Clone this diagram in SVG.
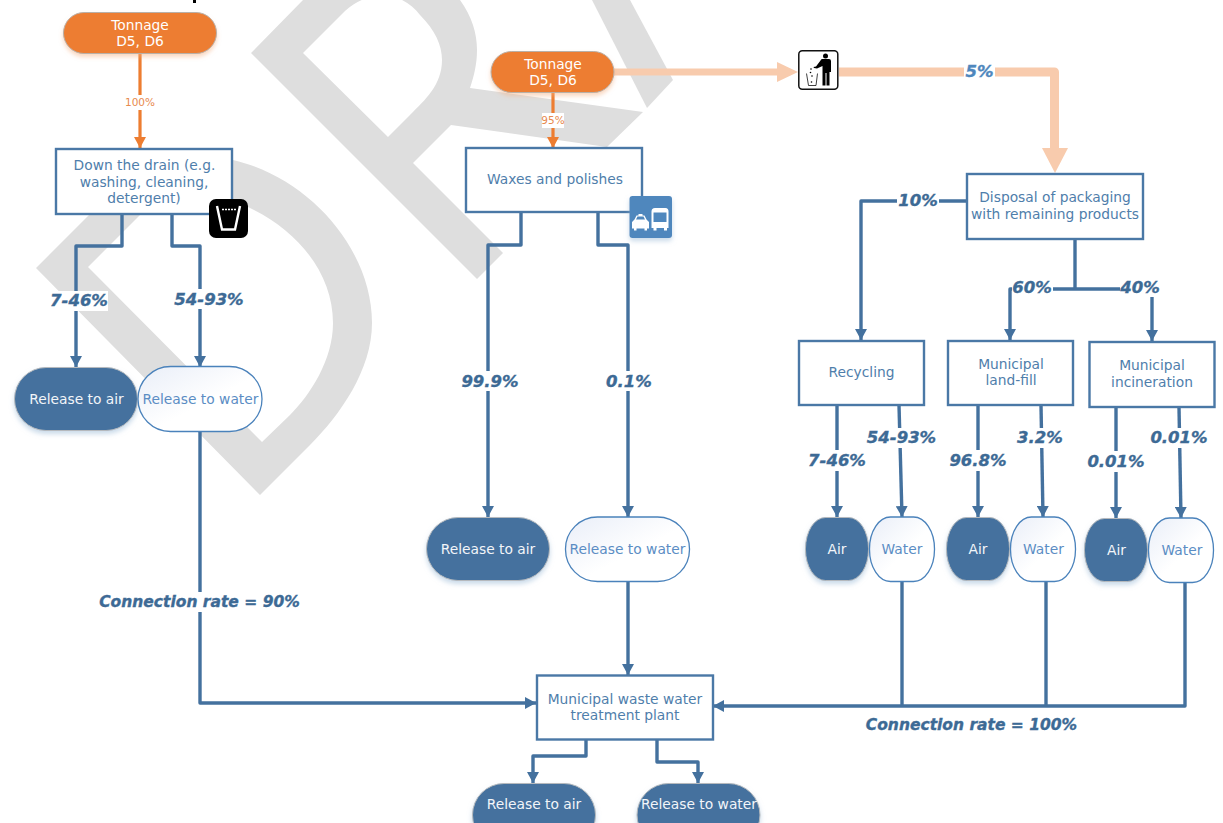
<svg xmlns="http://www.w3.org/2000/svg" width="1223" height="823" viewBox="0 0 1223 823">
<style>
text{font-family:"DejaVu Sans",Verdana,sans-serif;text-anchor:middle}
.t{font-size:13.8px}
.box{fill:#fff;stroke:#4A78A6;stroke-width:2.4}
.boxt{fill:#4F7EAB}
.dark{fill:#44719E;stroke:#b5b9bd;stroke-width:1;filter:url(#sb)}
.darkt{fill:#F2F5F9}
.water{fill:url(#wg);stroke:#4A82BB;stroke-width:1.3}
.watert{fill:#5B8DC4}
.orange{fill:#ED7D31;stroke:#b9b0a8;stroke-width:1;filter:url(#so)}
.oranget{fill:#fff}
.c{fill:none;stroke:#44719E;stroke-width:3.4;stroke-linejoin:round;marker-end:url(#ab)}
.n{marker-end:none}
.co{fill:none;stroke:#ED7D31;stroke-width:3.2;marker-end:url(#ao)}
.cp{fill:none;stroke:#F8CBAD;stroke-width:9;stroke-linejoin:round}
.pct{font-size:16.5px;font-weight:bold;font-style:italic;fill:#3D6A95;stroke:#3D6A95;stroke-width:.35}
.rate{font-size:15.5px}
.small{font-size:10.5px;fill:#E88A4E}
.bg{fill:#fff}
.wm{fill:#dedede;fill-rule:evenodd}
</style>
<defs>
<linearGradient id="wg" x1="0" y1="0" x2="1" y2="1"><stop offset="0" stop-color="#E9EEF8"/><stop offset=".55" stop-color="#fff"/></linearGradient>
<filter id="sb" x="-20%" y="-20%" width="140%" height="150%"><feDropShadow dx="0" dy="3" stdDeviation="2.5" flood-color="#9DBBD8" flood-opacity=".55"/></filter>
<filter id="so" x="-20%" y="-20%" width="140%" height="150%"><feDropShadow dx="0" dy="3" stdDeviation="2" flood-color="#F4B183" flood-opacity=".5"/></filter>
<marker id="ab" markerUnits="userSpaceOnUse" markerWidth="12" markerHeight="12" refX="11" refY="6" orient="auto"><path d="M0,0L11,6L0,12Z" fill="#44719E"/></marker>
<marker id="ao" markerUnits="userSpaceOnUse" markerWidth="12" markerHeight="12" refX="11" refY="6" orient="auto"><path d="M0,0L11,6L0,12Z" fill="#ED7D31"/></marker>
</defs>
<g id="watermark">
<path class="wm" d="M36,268L120,184C150,155 190,150 233,160C310,178 372,250 372,323C372,370 340,415 310,445L260,495ZM88,267L262,442L290,415C310,395 333,360 333,323C333,275 300,232 250,208C215,190 170,190 140,215Z"/>
<path class="wm" d="M251,53L303,0L460,0C472,17 477,33 477,50C477,64 474,76 470,88L643,112L607,147L451,125L413,163L503,253L477,279ZM303,53L388,137L410,115C425,100 442,85 442,60C442,45 435,30 420,15C405,-5 375,-15 345,11Z"/>
<path class="wm" d="M592,0L630,0L673,80L647,108Z"/>
</g>
<rect x="193" y="0" width="3" height="3" fill="#000"/>
<g id="connectors">
<path class="co" d="M140,54V148"/>
<path class="co" d="M553,93V148"/>
<path class="cp" style="stroke-width:7" d="M613,72H780"/>
<circle cx="613" cy="72" r="3.500" fill="#F8CBAD"/>
<path d="M777,62L798,72L777,82Z" fill="#F8CBAD"/>
<path class="cp" d="M839,72H1054.500V150"/>
<path d="M1042,148H1068L1055,173Z" fill="#F8CBAD"/>
<path class="c" d="M122,214V246H76V367"/>
<path class="c" d="M172,214V246H200V367"/>
<path class="c" d="M200,431V703H536"/>
<path class="c" d="M521,212V245H488V517"/>
<path class="c" d="M598,212V245H628V517"/>
<path class="c" d="M628,581V675"/>
<path class="c" d="M586,740V756H533V783"/>
<path class="c" d="M657,740V762H698V783"/>
<path class="c" d="M966,201H861V340"/>
<path class="c n" d="M1075,239V289"/>
<path class="c" d="M1152,289H1075H1010V340"/>
<path class="c" d="M1152,289V341"/>
<path class="c" d="M837,405V517"/>
<path class="c" d="M899,405L902,517"/>
<path class="c" d="M978,405V517"/>
<path class="c" d="M1041,405L1043,517"/>
<path class="c" d="M1116,407V518"/>
<path class="c" d="M1179,407L1181,518"/>
<path class="c n" d="M902,581V706"/>
<path class="c n" d="M1046,582V706"/>
<path class="c" d="M1185,583V706H713"/>
</g>
<g id="labels">
<rect class="bg" x="125" y="95" width="30" height="15"/><text class="small" x="140" y="106">100%</text>
<rect class="bg" x="542" y="113" width="22" height="15"/><text class="small" x="553" y="124">95%</text>
<rect class="bg" x="964" y="62" width="31" height="20"/><text class="pct" style="fill:#4F87BD;stroke:#4F87BD" x="979.500" y="77">5%</text>
<rect class="bg" x="50" y="291" width="58" height="20"/><text class="pct" x="79" y="306">7-46%</text>
<rect class="bg" x="174" y="289" width="70" height="20"/><text class="pct" x="209" y="305">54-93%</text>
<rect class="bg" x="461" y="371" width="58" height="20"/><text class="pct" x="490" y="387">99.9%</text>
<rect class="bg" x="606" y="371" width="46" height="20"/><text class="pct" x="629" y="387">0.1%</text>
<rect class="bg" x="99" y="592" width="201" height="20"/><text class="pct rate" x="199.500" y="607">Connection rate = 90%</text>
<text class="pct rate" x="971.500" y="730">Connection rate = 100%</text>
<rect class="bg" x="897" y="191" width="42" height="20"/><text class="pct" x="918" y="206">10%</text>
<rect class="bg" x="1012" y="278" width="41" height="20"/><text class="pct" x="1032" y="293">60%</text>
<rect class="bg" x="1120" y="278" width="41" height="19"/><text class="pct" x="1140" y="293">40%</text>
<rect class="bg" x="808" y="450" width="58" height="21"/><text class="pct" x="837" y="466">7-46%</text>
<rect class="bg" x="867" y="428" width="70" height="20"/><text class="pct" x="901.500" y="443">54-93%</text>
<rect class="bg" x="949" y="450" width="58" height="21"/><text class="pct" x="978" y="466">96.8%</text>
<rect class="bg" x="1017" y="428" width="46" height="20"/><text class="pct" x="1040" y="443">3.2%</text>
<rect class="bg" x="1088" y="451" width="57" height="21"/><text class="pct" x="1116" y="467">0.01%</text>
<rect class="bg" x="1151" y="428" width="57" height="20"/><text class="pct" x="1179" y="443">0.01%</text>
</g>
<g id="tonnage1"><rect class="orange" x="63.500" y="12.500" width="153" height="41" rx="20.500"/><text class="t oranget" x="140" y="30">Tonnage</text><text class="t oranget" x="140" y="46">D5, D6</text></g>
<g id="drain"><rect class="box" x="56" y="149" width="176" height="65"/><text class="t boxt" x="144.500" y="170">Down the drain (e.g.</text><text class="t boxt" x="144" y="187">washing, cleaning,</text><text class="t boxt" x="144" y="203">detergent)</text></g>
<g id="icon-glass"><rect x="209" y="199" width="39" height="39" rx="7" fill="#000"/><path d="M217,206L222,229.500H235L240,206" fill="none" stroke="#fff" stroke-width="2.400"/><path d="M222,209.500H236" stroke="#fff" stroke-width="1.500" stroke-dasharray="2 1"/></g>
<g id="air1"><rect class="dark" x="14.500" y="367.500" width="123" height="63" rx="31.500"/><text class="t darkt" x="76.500" y="404">Release to air</text></g>
<g id="water1"><rect class="water" x="138" y="366.500" width="124" height="65" rx="32.500"/><text class="t watert" x="200.500" y="404">Release to water</text></g>
<g id="tonnage2"><rect class="orange" x="491" y="51.500" width="123" height="41" rx="20.500"/><text class="t oranget" x="553" y="69">Tonnage</text><text class="t oranget" x="553" y="85">D5, D6</text></g>
<g id="icon-trash"><rect x="798.800" y="50.800" width="39" height="38.500" rx="3.500" fill="#fff" stroke="#111" stroke-width="1.500"/><circle cx="825.500" cy="56" r="2.500"/><path d="M822,59H829Q831,59 831,61V72H829.500V85.500H826.500V73H825.500V85.500H822.500V66L817,68.500L814,68L813.500,67L816,66.500L820.500,60.500Q821,59 822,59Z"/><path d="M806.500,73.500L808.500,85.500H816L817.500,73.500" fill="none" stroke="#111" stroke-width=".8"/><circle cx="811" cy="69" r=".8"/><circle cx="810.500" cy="72.500" r=".8"/><circle cx="812" cy="76" r=".8"/><circle cx="811.500" cy="82" r=".8"/></g>
<g id="waxes"><rect class="box" x="466" y="148" width="176" height="64"/><text class="t boxt" x="555" y="184">Waxes and polishes</text></g>
<g id="icon-vehicles"><rect x="629.500" y="196" width="42.500" height="42" rx="3" fill="#4F87BD" filter="url(#sb)"/><path d="M632,222L634.500,219.500L636.500,215.500H638.500V214H642.500V215.500H644.500L646.500,219.500L649,222V228.500H647V230.500H644.500V228.500H636.500V230.500H634V228.500H632Z" fill="#fff"/><path d="M637.500,216.500H643.500L645,219.500H636Z" fill="#4F87BD"/><path d="M655,208H665.500Q668.500,208 668.500,211.500V228H667V230.500H664V228H656.500V230.500H653.500V228H651.500V211.500Q651.500,208 655,208Z" fill="#fff"/><path d="M653.500,212.500H666.500V222H653.500Z" fill="#4F87BD"/></g>
<g id="air2"><rect class="dark" x="426.500" y="517.500" width="123" height="63" rx="31.500"/><text class="t darkt" x="488" y="554">Release to air</text></g>
<g id="water2"><rect class="water" x="565.500" y="517" width="124" height="64.500" rx="32"/><text class="t watert" x="627.500" y="554">Release to water</text></g>
<g id="disposal"><rect class="box" x="967" y="174" width="176" height="65"/><text class="t boxt" x="1055" y="202">Disposal of packaging</text><text class="t boxt" x="1055" y="219">with remaining products</text></g>
<g id="recycling"><rect class="box" x="799" y="341" width="125" height="64"/><text class="t boxt" x="861.500" y="377">Recycling</text></g>
<g id="landfill"><rect class="box" x="948" y="341" width="125" height="64"/><text class="t boxt" x="1011" y="369">Municipal</text><text class="t boxt" x="1011" y="385">land-fill</text></g>
<g id="incineration"><rect class="box" x="1089.500" y="342" width="125" height="65"/><text class="t boxt" x="1152" y="370">Municipal</text><text class="t boxt" x="1152" y="387">incineration</text></g>
<g id="air-r"><rect class="dark" x="805.500" y="517.500" width="63" height="63" rx="20" ry="31"/><text class="t darkt" x="837" y="554">Air</text></g>
<g id="water-r"><rect class="water" x="869.500" y="517" width="65" height="64.500" rx="21" ry="32"/><text class="t watert" x="902" y="554">Water</text></g>
<g id="air-l"><rect class="dark" x="946.500" y="517.500" width="63" height="63" rx="20" ry="31"/><text class="t darkt" x="978" y="554">Air</text></g>
<g id="water-l"><rect class="water" x="1010.500" y="517" width="65" height="64.500" rx="21" ry="32"/><text class="t watert" x="1043.500" y="554">Water</text></g>
<g id="air-i"><rect class="dark" x="1084.500" y="518.500" width="63" height="63" rx="20" ry="31"/><text class="t darkt" x="1116.500" y="555">Air</text></g>
<g id="water-i"><rect class="water" x="1148.500" y="518" width="65" height="64.500" rx="21" ry="32"/><text class="t watert" x="1182" y="555">Water</text></g>
<g id="wwtp"><rect class="box" x="537" y="675.500" width="176" height="64"/><text class="t boxt" x="625" y="704">Municipal waste water</text><text class="t boxt" x="625" y="720">treatment plant</text></g>
<g id="air3"><rect class="dark" x="472.500" y="783.500" width="123" height="63" rx="31.500"/><text class="t darkt" x="534" y="809">Release to air</text></g>
<g id="water3"><rect class="dark" x="637" y="783.500" width="123" height="63" rx="31.500"/><text class="t darkt" x="699" y="809">Release to water</text></g>
</svg>
